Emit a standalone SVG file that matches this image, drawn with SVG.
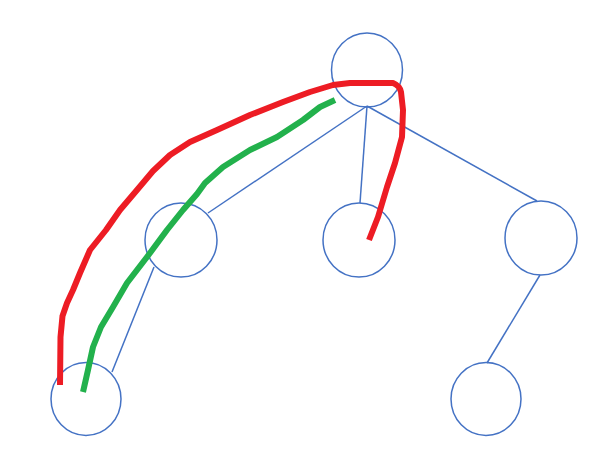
<svg xmlns="http://www.w3.org/2000/svg" width="594" height="455" viewBox="0 0 594 455">
<style>
.node{fill:none;stroke:#4472C4;stroke-width:1.5}
.edge{stroke:#4472C4;stroke-width:1.5;fill:none}
.red{fill:none;stroke:#ED1C24;stroke-width:6;stroke-linejoin:round}
.green{fill:none;stroke:#22B14C;stroke-width:6;stroke-linejoin:round}
</style>
<rect width="594" height="455" fill="#ffffff"/>
<g id="connectors">
<line class="edge" x1="367" y1="106" x2="208" y2="213"/>
<line class="edge" x1="367" y1="106" x2="360" y2="203"/>
<line class="edge" x1="367" y1="106" x2="537" y2="201"/>
<line class="edge" x1="154" y1="267" x2="112" y2="372"/>
<line class="edge" x1="540" y1="275" x2="487" y2="363"/>
</g>
<g id="node-top"><ellipse class="node" cx="367" cy="70" rx="35.5" ry="37"/></g>
<g id="node-left"><ellipse class="node" cx="181" cy="240" rx="36" ry="37"/></g>
<g id="node-mid"><ellipse class="node" cx="359" cy="240" rx="36" ry="37"/></g>
<g id="node-right"><ellipse class="node" cx="541" cy="238" rx="36" ry="37"/></g>
<g id="node-bottom-left"><ellipse class="node" cx="86" cy="399" rx="35" ry="36.5"/></g>
<g id="node-bottom-right"><ellipse class="node" cx="486" cy="399" rx="35" ry="36.5"/></g>
<g id="paths">
<path class="red" d="M60,385 L60.5,337 L62.5,316 L67,303 L73,290 L80,273 L90,250 L106,230 L120,210 L137,190 L153,171 L170,155 L190,142 L217,130 L250,115 L283,102 L310,92 L333,85 L350,83 L393,83 Q400,86 401,92 L403,110 L402,137 L395,163 L387,187 L378,217 L369,240"/>
<path class="green" d="M83,392 L88,370 L93,347 L101,327 L113,307 L127,283 L147,257 L167,230 L183,210 L197,194 L205,183 L223,167 L250,150 L277,137 L303,120 L320,107 L335,100"/>
</g>
</svg>
